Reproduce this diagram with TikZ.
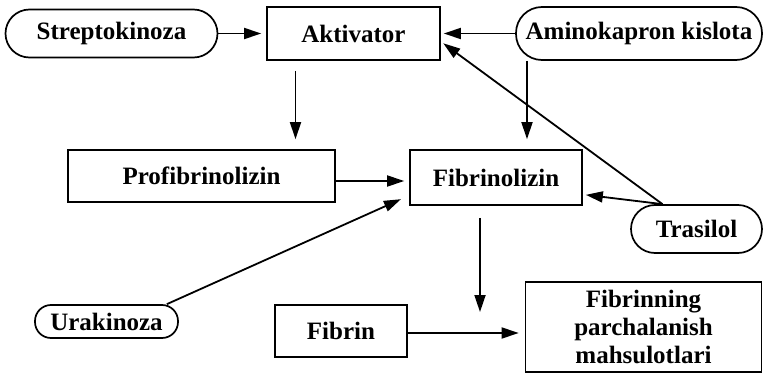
\documentclass[tikz,border=0pt]{standalone}
\usepackage{fontspec}
\setmainfont{Liberation Serif}
\usetikzlibrary{arrows.meta,calc}
\begin{document}
\begin{tikzpicture}[x=1pt,y=-1pt,
  every node/.style={font=\fontsize{25}{28}\selectfont\bfseries, inner sep=0pt, line width=1.7pt},
  boxn/.style={draw, rectangle},
  pill/.style={draw, rectangle, rounded corners=#1},
  arr/.style={line width=1.8pt, -{Triangle[length=17pt,width=11pt]}}]
\useasboundingbox (0,0) rectangle (764,375);
\node[pill=24pt, minimum width=212pt, minimum height=48pt] (strep) at (111.5,33.5) {Streptokinoza};
\node[boxn, minimum width=173pt, minimum height=53pt] (akt) at (353.5,33.5) {Aktivator};
\node[pill=26pt, minimum width=246pt, minimum height=53pt] (amino) at (639,33.5) {Aminokapron kislota};
\node[boxn, minimum width=267pt, minimum height=52pt] (prof) at (201.5,176) {Profibrinolizin};
\node[boxn, minimum width=172pt, minimum height=55pt] (fibl) at (496,177.5) {Fibrinolizin};
\node[pill=24pt, minimum width=131pt, minimum height=48pt] (tras) at (696.5,229) {Trasilol};
\node[pill=16pt, minimum width=143pt, minimum height=33pt] (urak) at (106.5,321.5) {Urakinoza};
\node[boxn, minimum width=132pt, minimum height=52pt] (fibrin) at (341,331) {Fibrin};
\node[boxn, minimum width=236pt, minimum height=90pt, align=center] (prod) at (643.5,327) {Fibrinning\\parchalanish\\mahsulotlari};
% helper coordinates
\coordinate (aktdown) at ([xshift=-58pt]akt.south);
\coordinate (amdown) at ([xshift=-112pt]amino.south);
\coordinate (trastop) at ([xshift=-34pt]tras.north);
\coordinate (fldown) at ([xshift=-16pt]fibl.south);
\coordinate (prodin) at ([yshift=15pt]prod.west);
\coordinate (profout) at ([yshift=-5pt]prof.east);
\coordinate (fibout) at ([yshift=-2pt]fibrin.east);
% connectors
\draw[arr, shorten >=5pt] (strep.east) -- (akt.west);
\draw[arr, shorten >=3pt] (amino.west) -- (akt.east);
\draw[arr, shorten <=10pt, shorten >=10pt] (aktdown) -- (aktdown |- prof.north);
\draw[arr, shorten >=10pt] (amdown) -- (amdown |- fibl.north);
\draw[arr, shorten >=3pt] (trastop) -- ([yshift=-8pt]akt.east);
\draw[arr, shorten >=3pt] (trastop) -- ([yshift=-17pt]fibl.east);
\draw[arr, shorten >=5pt] (profout) -- (profout -| fibl.west);
\draw[arr, shorten >=9pt] ([xshift=-12pt]urak.north east) -- ([yshift=-18pt]fibl.west);
\draw[arr, shorten <=12pt] (fldown) -- (fldown |- prodin);
\draw[arr, shorten >=6pt] (fibout) -- (fibout -| prod.west);
\end{tikzpicture}
\end{document}
